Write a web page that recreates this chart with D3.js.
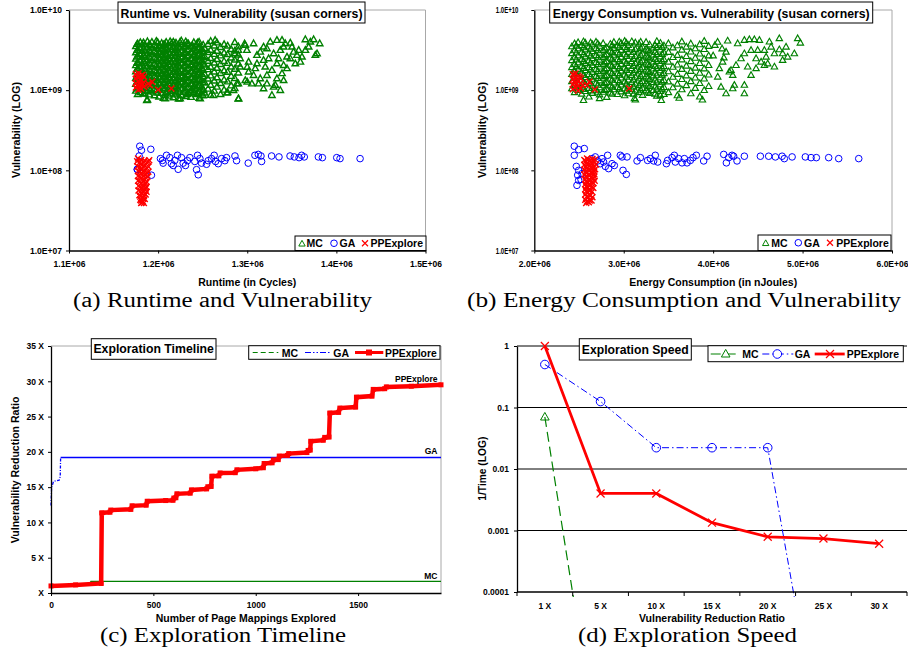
<!DOCTYPE html>
<html>
<head>
<meta charset="utf-8">
<script src="https://cdn.jsdelivr.net/npm/d3@7"></script>
<style>
  body { margin: 0; background: #fff; }
  svg { display: block; }
  text { font-family: "Liberation Sans", Arial, Helvetica, sans-serif; font-weight: bold; fill: #000; }
  text.cap { font-family: "Liberation Serif", "Times New Roman", serif; font-weight: normal; }
</style>
</head>
<body>
<svg id="fig" width="908" height="652"></svg>
<script>
// ---- data: scatter (a), runtime in 1e6 cycles, vulnerability in 1e8 ----
// column form: [runtime, vuln, vuln, ...]
var mcRuntimeCols = [
  [1.175, 9.8, 11.9, 14.2, 17.1, 20.4, 24.6, 29.5, 35.2],
  [1.1765, 10.4, 12.6, 15.1, 18.2, 21.8, 26.2, 31.4, 37.5],
  [1.177, 8.9, 10.7, 13.0, 15.6, 18.7, 22.3, 26.8, 32.0, 38.1],
  [1.180, 9.4, 11.3, 13.6, 16.4, 19.6, 23.5, 28.1, 33.6, 39.5],
  [1.182, 10.2, 12.4, 14.9, 17.9, 21.4, 25.7, 30.8, 36.9],
  [1.1835, 9.0, 11.0, 13.2, 15.9, 19.0, 22.9, 27.4, 32.9, 39.2],
  [1.185, 9.1, 10.9, 12.9, 15.3, 18.2, 21.9, 26.1, 31.2, 37.4],
  [1.188, 7.6, 9.7, 11.6, 13.9, 16.7, 20.0, 24.0, 28.8, 34.5, 40.6],
  [1.190, 8.8, 10.5, 12.6, 15.1, 18.1, 21.7, 26.0, 31.1, 37.2],
  [1.1915, 10.0, 12.0, 14.4, 17.3, 20.8, 24.9, 29.9, 35.8],
  [1.193, 9.6, 11.5, 13.8, 16.5, 19.8, 23.7, 28.4, 34.0, 39.8],
  [1.196, 8.6, 10.3, 12.3, 14.8, 17.7, 21.2, 25.4, 30.4, 36.4],
  [1.198, 9.9, 11.8, 14.2, 17.0, 20.3, 24.3, 29.1, 34.9, 41.0],
  [1.1995, 9.3, 11.2, 13.4, 16.1, 19.3, 23.2, 27.8, 33.3, 39.5],
  [1.201, 8.3, 10.0, 12.0, 14.4, 17.2, 20.6, 24.7, 29.6, 35.4],
  [1.204, 9.2, 11.1, 13.3, 15.9, 19.0, 22.8, 27.3, 32.7, 38.6],
  [1.206, 8.0, 10.6, 12.7, 15.2, 18.3, 21.9, 26.2, 31.4, 37.0],
  [1.2075, 8.7, 10.5, 12.6, 15.1, 18.1, 21.7, 26.0, 31.2, 37.3],
  [1.209, 9.5, 11.4, 13.7, 16.4, 19.7, 23.6, 28.3, 33.9, 39.9],
  [1.212, 8.5, 10.2, 12.2, 14.6, 17.5, 21.0, 25.2, 30.1, 36.0],
  [1.2135, 9.7, 11.7, 14.0, 16.8, 20.1, 24.1, 28.9, 34.7, 40.6],
  [1.215, 9.0, 10.8, 12.9, 15.5, 18.6, 22.3, 26.7, 32.0, 38.3],
  [1.217, 8.1, 9.7, 11.7, 14.0, 16.8, 20.1, 24.1, 28.9, 34.6, 40.2],
  [1.2185, 8.8, 10.6, 12.7, 15.3, 18.3, 22.0, 26.4, 31.6, 37.9],
  [1.220, 9.3, 11.2, 13.4, 16.1, 19.3, 23.1, 27.7, 33.1, 39.0],
  [1.223, 7.8, 10.1, 12.1, 14.5, 17.4, 20.8, 24.9, 29.8, 35.7],
  [1.2245, 9.5, 11.4, 13.7, 16.4, 19.7, 23.6, 28.3, 33.9, 39.7],
  [1.226, 8.7, 10.4, 12.5, 15.0, 18.0, 21.6, 25.9, 31.0, 37.1, 41.5],
  [1.229, 9.8, 11.8, 14.1, 16.9, 20.2, 24.2, 29.0, 34.7],
  [1.231, 8.4, 10.1, 12.1, 14.5, 17.3, 20.7, 24.8, 29.7, 35.6, 40.5],
  [1.2325, 8.9, 10.7, 12.8, 15.4, 18.5, 22.2, 26.6, 31.9, 38.2],
  [1.234, 9.1, 10.9, 13.1, 15.7, 18.8, 22.5, 27.0, 32.3, 38.0],
  [1.237, 8.2, 9.9, 11.9, 14.3, 17.1, 20.5, 24.6, 29.5, 35.3],
  [1.2385, 10.1, 12.1, 14.5, 17.4, 20.9, 25.0, 30.0, 36.0],
  [1.240, 9.4, 11.3, 13.5, 16.2, 19.4, 23.3, 27.9, 33.4, 39.6],
  [1.243, 8.9, 10.7, 12.8, 15.4, 18.4, 22.1, 26.5, 31.7, 37.7],
  [1.2445, 9.2, 11.0, 13.2, 15.8, 19.0, 22.8, 27.3, 32.8, 39.2],
  [1.246, 8.0, 9.6, 11.5, 13.8, 16.6, 19.9, 23.8, 28.5, 34.2, 40.0],
  [1.249, 9.0, 11.0, 13.2, 15.8, 18.9, 22.7, 27.2, 32.6],
  [1.2505, 8.6, 10.3, 12.4, 14.9, 17.8, 21.4, 25.7, 30.8, 36.9],
  [1.252, 9.3, 12.6, 16.0, 20.8, 26.4, 33.5],
  [1.256, 10.4, 13.9, 18.2, 23.1, 29.8, 37.6],
  [1.259, 8.7, 11.6, 15.2, 19.5, 25.0, 31.8, 40.9],
  [1.263, 9.8, 13.1, 17.0, 22.0, 28.2, 35.9],
  [1.266, 11.0, 14.4, 18.9, 24.3, 30.9, 39.2],
  [1.270, 8.9, 12.2, 16.3, 21.1, 27.0, 34.4],
  [1.274, 10.1, 13.5, 17.6, 23.0, 29.3, 37.4],
  [1.278, 9.4, 12.8, 16.9, 21.8, 28.0, 35.8],
  [1.282, 11.4, 15.0, 19.6, 25.4, 32.4],
  [1.286, 10.6, 14.1, 18.4, 24.0, 31.0, 39.6],
  [1.290, 7.8, 12.1, 16.5, 21.4, 27.6, 35.0]
];
var mcRuntimePts = [
  [1.3652, 43], [1.3745, 43], [1.3813, 38.3], [1.3783, 28.7], [1.3764, 27.4], [1.3652, 31.6],
  [1.3596, 22.6], [1.3558, 27.4], [1.3502, 34.8], [1.3483, 24.9], [1.3539, 21.5], [1.3258, 40.2],
  [1.3333, 42.2], [1.339, 42.2], [1.3427, 38.3], [1.3483, 39], [1.3221, 33.2], [1.3296, 28.7],
  [1.3371, 31.6], [1.3446, 26.1], [1.3183, 23.7], [1.3333, 21.5], [1.3408, 20.5], [1.3277, 17.8],
  [1.339, 16.2], [1.3333, 14], [1.3446, 18.7], [1.3221, 12.1], [1.3183, 10.5], [1.3296, 11],
  [1.3277, 8.66], [1.3315, 11.6], [1.3146, 14], [1.3221, 15.4], [1.2865, 28.7], [1.2921, 24.9],
  [1.2996, 31.6], [1.3071, 38.3], [1.3109, 27.4], [1.2921, 19.6], [1.3015, 17], [1.3109, 21.5],
  [1.2978, 13.3], [1.2884, 12.1], [1.3052, 12.1], [1.2846, 10], [1.2902, 7.87], [1.3071, 15.4],
  [1.2978, 36.5], [1.3183, 34.8], [1.3146, 30.1], [1.309, 18.7], [1.3015, 22.6], [1.324, 24.9],
  [1.3408, 13.3], [1.3577, 31.6], [1.3614, 26.1], [1.352, 30.1], [1.3689, 34.8], [1.3708, 40.2],
  [1.3352, 24.9], [1.3202, 19.6], [1.3127, 12.1], [1.3371, 10], [1.3408, 34.8], [1.2472, 7.87],
  [1.2621, 8.66], [1.251, 10], [1.2771, 9.3], [1.1873, 7.5], [1.2079, 7.87], [1.2247, 7.87],
  [1.2362, 9.5], [1.264, 42], [1.297, 38], [1.29, 31.6], [1.3, 12.7], [1.3, 19.5]
];
var gaRuntime = [
  [1.1794, 2.0], [1.1813, 1.78], [1.1918, 1.83], [1.1787, 1.51], [1.1768, 1.02], [1.1765, 1.03],
  [1.1925, 0.87], [1.2026, 1.40], [1.2056, 1.23], [1.2094, 1.54], [1.2049, 1.33], [1.2131, 1.44],
  [1.2149, 1.21], [1.2187, 1.33], [1.2217, 1.54], [1.2169, 1.15], [1.2225, 1.03], [1.2262, 1.44],
  [1.2281, 1.23], [1.2307, 1.15], [1.2356, 1.44], [1.2329, 1.32], [1.2412, 1.29], [1.2442, 1.54],
  [1.2469, 1.40], [1.2487, 1.23], [1.2431, 1.02], [1.245, 0.88], [1.2562, 1.32], [1.2543, 1.19],
  [1.2599, 1.40], [1.2629, 1.54], [1.2644, 1.29], [1.2674, 1.21], [1.2712, 1.40], [1.2749, 1.32],
  [1.2768, 1.44], [1.2862, 1.51], [1.288, 1.32], [1.3011, 1.23], [1.3086, 1.54], [1.3124, 1.58],
  [1.3154, 1.51], [1.3161, 1.29], [1.3273, 1.51], [1.3356, 1.47], [1.348, 1.51], [1.3528, 1.47],
  [1.3581, 1.44], [1.361, 1.54], [1.364, 1.47], [1.3798, 1.47], [1.3843, 1.44], [1.4004, 1.44],
  [1.4041, 1.40], [1.4266, 1.40]
];
var ppeRuntime = [
  [1.175, 15.8], [1.175, 13.9], [1.175, 12.2], [1.175, 10.8], [1.178, 16.3], [1.178, 14.5],
  [1.178, 12.8], [1.178, 11.3], [1.178, 10.1], [1.181, 15.2], [1.181, 13.3], [1.181, 11.7],
  [1.181, 10.4], [1.184, 14.6], [1.184, 12.6], [1.184, 11.0], [1.1765, 14.8], [1.1765, 11.5],
  [1.1795, 13.7], [1.1795, 10.7], [1.1825, 12.0], [1.1825, 15.6],
  [1.189, 12.0], [1.1907, 11.5], [1.1933, 12.7], [1.200, 10.1], [1.2149, 10.5],
  [1.1765, 1.30], [1.1770, 1.12], [1.1775, 0.98], [1.1775, 0.85], [1.1775, 0.74], [1.178, 0.64],
  [1.178, 0.56], [1.179, 0.49], [1.180, 0.43], [1.181, 0.39], [1.181, 1.35], [1.181, 1.20],
  [1.181, 1.05], [1.181, 0.92], [1.181, 0.80], [1.181, 0.69], [1.182, 0.60], [1.182, 0.52],
  [1.183, 0.45], [1.182, 0.40], [1.185, 1.32], [1.185, 1.16], [1.185, 1.00], [1.185, 0.88],
  [1.185, 0.77], [1.185, 0.67], [1.185, 0.58], [1.186, 0.50], [1.185, 0.44], [1.184, 0.39],
  [1.189, 1.28], [1.189, 1.12], [1.189, 0.96], [1.188, 0.84], [1.187, 0.72], [1.187, 0.62],
  [1.187, 0.54], [1.190, 1.34], [1.1775, 1.40],
  [1.1795, 1.26], [1.1795, 1.09], [1.1795, 0.95], [1.1795, 0.83], [1.1795, 0.72], [1.1795, 0.62],
  [1.180, 0.54], [1.180, 0.47], [1.181, 0.42], [1.1835, 1.28], [1.1835, 1.11], [1.1835, 0.97],
  [1.1835, 0.85], [1.1835, 0.74], [1.1835, 0.64], [1.184, 0.55], [1.184, 0.48], [1.183, 0.41],
  [1.1875, 1.24], [1.1875, 1.06], [1.1875, 0.92], [1.1865, 0.80], [1.186, 0.69], [1.186, 0.60]
];

// ---- data: scatter (b), energy in 1e6 nJ, vulnerability in 1e8 ----
var mcEnergyCols = [
  [2.42, 10.5, 12.9, 15.8, 19.3, 23.6, 28.8, 35.1],
  [2.45, 9.4, 11.5, 14.1, 17.2, 21.0, 25.6, 31.3, 38.2],
  [2.47, 10.8, 13.2, 16.1, 19.7, 24.0, 29.3, 35.8],
  [2.49, 10.0, 12.2, 14.9, 18.2, 22.2, 27.1, 33.1, 39.5],
  [2.53, 9.0, 11.0, 13.4, 16.4, 20.0, 24.4, 29.8, 36.3],
  [2.55, 10.3, 12.6, 15.4, 18.8, 22.9, 27.9, 34.1, 40.5],
  [2.57, 9.7, 11.9, 14.5, 17.7, 21.6, 26.3, 32.1, 39.0],
  [2.61, 8.3, 10.6, 12.9, 15.8, 19.3, 23.5, 28.7, 35.0],
  [2.63, 9.9, 12.1, 14.7, 18.0, 21.9, 26.8, 32.7, 39.1],
  [2.65, 9.2, 11.3, 13.8, 16.8, 20.5, 25.0, 30.5, 37.2],
  [2.69, 10.1, 12.3, 15.0, 18.3, 22.3, 27.2, 33.2, 40.0],
  [2.71, 9.5, 11.6, 14.1, 17.2, 21.0, 25.6, 31.3, 38.0],
  [2.73, 8.8, 10.8, 13.2, 16.1, 19.6, 23.9, 29.2, 35.6],
  [2.77, 9.5, 11.6, 14.2, 17.3, 21.1, 25.8, 31.5, 38.4],
  [2.79, 10.0, 12.2, 14.9, 18.1, 22.1, 27.0, 32.9],
  [2.81, 8.2, 10.3, 12.6, 15.4, 18.8, 22.9, 28.0, 34.1],
  [2.85, 9.3, 11.4, 13.9, 17.0, 20.7, 25.3, 30.9, 37.7],
  [2.87, 9.0, 11.0, 13.4, 16.3, 19.9, 24.3, 29.7, 36.2],
  [2.89, 10.2, 12.4, 15.1, 18.4, 22.5, 27.5, 33.5, 39.8],
  [2.93, 8.9, 10.9, 13.3, 16.2, 19.8, 24.2, 29.5, 36.0],
  [2.95, 10.4, 12.7, 15.5, 18.9, 23.1, 28.2, 34.4, 40.2],
  [2.97, 9.6, 11.7, 14.3, 17.4, 21.2, 25.9, 31.6, 38.6],
  [3.01, 8.6, 10.5, 12.8, 15.6, 19.0, 23.2, 28.3, 34.5, 41.0],
  [3.03, 9.8, 12.0, 14.6, 17.8, 21.7, 26.5, 32.3, 38.9],
  [3.05, 9.1, 11.1, 13.5, 16.5, 20.1, 24.5, 29.9, 36.5],
  [3.09, 10.3, 12.6, 15.4, 18.8, 22.9, 27.9, 34.0, 40.5],
  [3.11, 9.0, 11.0, 13.4, 16.4, 20.0, 24.4, 29.8],
  [3.13, 7.6, 9.8, 12.0, 14.6, 17.8, 21.7, 26.5, 32.3, 39.2],
  [3.17, 9.4, 11.5, 14.0, 17.1, 20.9, 25.5, 31.1, 37.9],
  [3.19, 10.1, 12.3, 15.0, 18.3, 22.4, 27.3, 33.3, 40.1],
  [3.21, 8.7, 10.6, 12.9, 15.7, 19.2, 23.4, 28.5, 34.8],
  [3.25, 9.9, 12.1, 14.8, 18.0, 22.0, 26.8, 32.7, 39.7],
  [3.27, 9.5, 11.6, 14.2, 17.3, 21.1, 25.7, 31.4],
  [3.29, 9.2, 11.2, 13.7, 16.7, 20.4, 24.9, 30.4, 37.0],
  [3.33, 10.0, 12.5, 15.2, 18.5, 22.6, 27.6, 33.7],
  [3.35, 9.0, 11.0, 13.4, 16.4, 20.0, 24.4, 29.8, 36.3],
  [3.37, 8.5, 10.4, 12.7, 15.5, 18.9, 23.1, 28.2, 34.4, 40.8],
  [3.41, 9.7, 11.8, 14.4, 17.6, 21.5, 26.2, 32.0, 38.8],
  [3.43, 10.4, 12.7, 15.5, 18.9, 23.1, 28.2, 34.4],
  [3.45, 8.9, 10.9, 13.3, 16.2, 19.8, 24.2, 29.5, 36.0],
  [3.50, 9.4, 12.8, 17.1, 22.6, 29.9, 38.3],
  [3.55, 10.8, 14.6, 19.5, 25.8, 34.0],
  [3.60, 8.6, 12.0, 15.9, 20.8, 27.4, 36.1],
  [3.65, 10.2, 13.7, 18.3, 24.1, 31.9, 40.3],
  [3.70, 11.5, 15.2, 20.1, 26.5, 34.8],
  [3.75, 9.1, 12.9, 17.3, 22.9, 30.2, 38.0],
  [3.80, 10.6, 14.3, 19.0, 25.2, 33.1],
  [3.85, 8.3, 12.2, 16.4, 21.7, 28.5, 37.2],
  [3.90, 10.0, 13.9, 18.6, 24.6, 32.4, 41.0],
  [3.95, 11.2, 15.6, 20.5, 27.0, 35.5]
];
var mcEnergyPts = [
  [4.162, 41.4], [4.274, 38.3], [4.349, 42.2], [4.405, 43], [4.461, 43], [4.517, 42.2],
  [4.629, 40.2], [4.740, 44.3], [4.945, 44.3], [4.975, 39.0], [4.908, 28.7], [4.777, 23.7],
  [4.740, 32.2], [4.685, 28.7], [4.648, 34.8], [4.592, 26.1], [4.536, 22.6], [4.480, 24.9],
  [4.424, 31.6], [4.349, 28.7], [4.312, 24.9], [4.256, 20.5], [4.200, 17.8], [4.219, 15.4],
  [4.237, 11.6], [4.219, 10.5], [4.349, 9.1], [4.349, 11.6], [4.424, 15.4], [4.480, 18.7],
  [4.573, 20.5], [4.386, 19.6], [4.106, 22.6], [4.144, 30.1], [4.069, 18.7], [4.051, 14.7],
  [4.088, 11.0], [4.144, 9.1], [4.181, 17.0], [4.610, 21.5], [4.685, 19.6], [4.833, 26.1],
  [4.815, 34.8], [4.777, 28.7], [4.573, 31.6], [4.498, 31.6], [4.02, 36.5], [4.05, 40.0],
  [4.10, 33.0], [4.00, 27.0], [4.12, 25.5], [2.55, 7.5], [2.73, 7.9], [3.12, 7.9],
  [3.42, 7.5], [3.41, 8.6], [3.62, 8.0], [3.88, 7.6]
];
var gaEnergy = [
  [2.447, 2.0], [2.496, 1.81], [2.559, 1.87], [2.447, 1.54], [2.470, 1.12], [2.496, 1.0],
  [2.485, 0.87], [2.496, 0.75], [2.477, 0.65], [2.522, 0.77], [2.533, 0.91], [2.645, 1.40],
  [2.682, 1.47], [2.708, 1.31], [2.757, 1.40], [2.738, 1.21], [2.775, 1.27], [2.820, 1.54],
  [2.794, 1.12], [2.831, 1.05], [2.869, 1.21], [2.895, 1.15], [2.962, 1.54], [2.981, 1.47],
  [3.037, 1.47], [2.992, 1.0], [3.029, 0.89], [3.149, 1.31], [3.186, 1.44], [3.267, 1.33],
  [3.298, 1.40], [3.353, 1.54], [3.335, 1.31], [3.380, 1.27], [3.477, 1.21], [3.491, 1.33],
  [3.540, 1.44], [3.566, 1.54], [3.577, 1.27], [3.614, 1.40], [3.652, 1.24], [3.678, 1.40],
  [3.708, 1.24], [3.745, 1.33], [3.775, 1.44], [3.812, 1.54], [3.894, 1.31], [3.932, 1.50],
  [4.118, 1.58], [4.148, 1.24], [4.174, 1.44], [4.211, 1.54], [4.229, 1.50], [4.267, 1.31],
  [4.349, 1.50], [4.528, 1.50], [4.621, 1.50], [4.696, 1.47], [4.771, 1.50], [4.796, 1.40],
  [4.883, 1.47], [5.031, 1.47], [5.095, 1.44], [5.154, 1.44], [5.292, 1.44], [5.404, 1.40],
  [5.628, 1.40]
];
var ppeEnergy = [
  [2.43, 15.8], [2.43, 13.6], [2.43, 11.8], [2.43, 10.3], [2.46, 16.2], [2.46, 14.2],
  [2.46, 12.4], [2.46, 10.8], [2.49, 15.0], [2.49, 13.0], [2.49, 11.3], [2.49, 9.8],
  [2.52, 14.0], [2.52, 12.2], [2.52, 10.6], [2.54, 11.6], [2.447, 15.4], [2.59, 11.5],
  [2.615, 12.7], [2.675, 10.2], [3.06, 10.5], [2.445, 12.9], [2.475, 11.9], [2.505, 14.5],
  [2.56, 1.35], [2.56, 1.17], [2.56, 1.02], [2.56, 0.89], [2.57, 0.77], [2.57, 0.67],
  [2.57, 0.58], [2.57, 0.50], [2.57, 0.43], [2.58, 0.39], [2.59, 1.40], [2.59, 1.22],
  [2.59, 1.06], [2.59, 0.93], [2.59, 0.81], [2.60, 0.70], [2.60, 0.61], [2.60, 0.53],
  [2.60, 0.46], [2.61, 0.40], [2.62, 1.33], [2.62, 1.15], [2.62, 1.0], [2.62, 0.87],
  [2.62, 0.76], [2.63, 0.66], [2.63, 0.57], [2.63, 0.49], [2.64, 0.42], [2.65, 1.38],
  [2.65, 1.20], [2.65, 1.04], [2.65, 0.91], [2.66, 0.79], [2.66, 0.69], [2.66, 0.60],
  [2.68, 1.36], [2.69, 1.18], [2.68, 1.03], [2.67, 0.90],
  [2.575, 1.30], [2.575, 1.12], [2.575, 0.97], [2.575, 0.84], [2.58, 0.73], [2.58, 0.63],
  [2.58, 0.55], [2.585, 0.47], [2.59, 0.41], [2.605, 1.36], [2.605, 1.18], [2.605, 1.02],
  [2.605, 0.88], [2.61, 0.76], [2.61, 0.66], [2.61, 0.57], [2.615, 0.49], [2.62, 0.42],
  [2.635, 1.27], [2.635, 1.10], [2.64, 0.95], [2.64, 0.83], [2.645, 0.72], [2.645, 0.62],
  [2.645, 0.54], [2.65, 0.46], [2.665, 1.30], [2.665, 1.12], [2.67, 0.97], [2.67, 0.84],
  [2.675, 0.74]
];

var vulnTicks = [0.1, 1, 10, 100];
var vulnTickLabels = ["1.0E+07", "1.0E+08", "1.0E+09", "1.0E+10"];
var runtimeTicks = [1.1, 1.2, 1.3, 1.4, 1.5];
var runtimeTickLabels = ["1.1E+06", "1.2E+06", "1.3E+06", "1.4E+06", "1.5E+06"];
var energyTicks = [2, 3, 4, 5, 6];
var energyTickLabels = ["2.0E+06", "3.0E+06", "4.0E+06", "5.0E+06", "6.0E+06"];

// ---- data: exploration timeline (c), [mappings explored, reduction ratio] ----
var mcTimeline = [[0, 1.0], [100, 1.2], [190, 1.3], [195, 1.66], [1905, 1.66]];
var gaTimeline = [[0, 12.4], [3, 15.0], [8, 15.4], [12, 15.8], [40, 16.0], [45, 16.5], [47, 19.2], [1905, 19.2]];
var ppeTimeline = [
  [0, 1.0], [120, 1.15], [245, 1.35], [248, 11.35], [288, 11.45], [292, 11.75], [390, 11.85],
  [396, 12.35], [465, 12.45], [470, 13.0], [560, 13.1], [596, 13.15], [600, 13.45], [610, 13.5],
  [615, 14.05], [680, 14.15], [686, 14.6], [760, 14.75], [766, 15.05], [782, 15.1], [786, 16.55],
  [820, 16.6], [826, 17.0], [900, 17.05], [908, 17.45], [1000, 17.6], [1037, 17.75], [1041, 18.35],
  [1080, 18.45], [1086, 18.85], [1110, 18.9], [1115, 19.4], [1155, 19.5], [1161, 19.75],
  [1250, 19.9], [1256, 20.2], [1266, 20.25], [1269, 21.5], [1330, 21.65], [1337, 22.05],
  [1358, 22.1], [1362, 25.5], [1405, 25.6], [1411, 26.2], [1488, 26.35], [1492, 27.75],
  [1568, 27.9], [1574, 28.85], [1630, 28.95], [1638, 29.2], [1760, 29.3], [1905, 29.5]
];
var ratioTicks = [0, 5, 10, 15, 20, 25, 30, 35];
var ratioTickLabels = ["X", "5 X", "10 X", "15 X", "20 X", "25 X", "30 X", "35 X"];
var mappingTicks = [0, 500, 1000, 1500];
var mappingTickLabels = ["0", "500", "1000", "1500"];

// ---- data: exploration speed (d), 1/time ----
var speedCats = ["1 X", "5 X", "10 X", "15 X", "20 X", "25 X", "30 X"];
var mcSpeed = [0.07, 1.3e-7, null, null, null, null, null];
var gaSpeed = [0.5, 0.125, 0.0222, 0.0222, 0.0222, 1.8e-7, null];
var ppeSpeed = [1, 0.004, 0.004, 0.00134, 0.00079, 0.00074, 0.00061];
var speedTicks = [0.0001, 0.001, 0.01, 0.1, 1];
var speedTickLabels = ["0.0001", "0.001", "0.01", "0.1", "1"];

var GREEN = "#008000", BLUE = "#0000ff", RED = "#ff0000", FRAME = "#a8a8a8";
var TRI = "M0,-3.4L3.2,2.3L-3.2,2.3Z";
var CROSS = "M-3,-3L3,3M-3,3L3,-3";

var fig = d3.select("#fig");
fig.append("rect").attr("width", 908).attr("height", 652).attr("fill", "#fff");

function flatten(cols, pts) {
  var out = [];
  cols.forEach(function(c) {
    c.slice(1).forEach(function(v) { out.push([c[0], v]); });
  });
  return out.concat(pts);
}

function styleAxis(sel, fs) {
  sel.attr("font-family", null).attr("font-size", null);
  sel.select(".domain").attr("stroke", "#000").attr("stroke-width", 1.3);
  sel.selectAll(".tick line").attr("stroke", "#000");
  sel.selectAll(".tick text").attr("font-size", fs);
}

function label(x, y, s, fs, len, anchor, rot) {
  var t = fig.append("text")
    .attr("transform", "translate(" + x + "," + y + ")" + (rot ? " rotate(-90)" : ""))
    .attr("text-anchor", anchor || "middle")
    .attr("font-size", fs)
    .text(s);
  if (len) t.attr("textLength", len).attr("lengthAdjust", "spacingAndGlyphs");
  return t;
}

function titleBox(x0, x1, y0, y1, s, base, len) {
  fig.append("rect").attr("x", x0).attr("y", y0).attr("width", x1 - x0).attr("height", y1 - y0)
    .attr("fill", "#fff").attr("stroke", "#000");
  label((x0 + x1) / 2, base, s, 12.5, len);
}

function caption(x0, x1, base, s) {
  label((x0 + x1) / 2, base, s, 20, x1 - x0).attr("class", "cap");
}

// ---------- scatter panels ----------
function scatterPanel(o) {
  var x = d3.scaleLinear().domain(o.xDomain).range([o.left, o.right]);
  var y = d3.scaleLog().domain([0.1, 100]).range([250.5, 10]);
  var g = fig.append("g");
  g.append("path").attr("d", "M" + o.left + ",10H" + o.right + "V250.5")
    .attr("fill", "none").attr("stroke", FRAME);

  g.append("g").attr("fill", "none").attr("stroke", GREEN).attr("stroke-width", o.mcStroke)
    .selectAll("path").data(o.mc).join("path")
    .attr("d", TRI)
    .attr("transform", function(d) { return "translate(" + x(d[0]) + "," + y(d[1]) + ")"; });
  g.append("g").attr("fill", "none").attr("stroke", BLUE).attr("stroke-width", 1)
    .selectAll("circle").data(o.ga).join("circle")
    .attr("r", 3.3)
    .attr("cx", function(d) { return x(d[0]); })
    .attr("cy", function(d) { return y(d[1]); });
  g.append("g").attr("fill", "none").attr("stroke", RED).attr("stroke-width", 1.4)
    .selectAll("path").data(o.ppe).join("path")
    .attr("d", CROSS)
    .attr("transform", function(d) { return "translate(" + x(d[0]) + "," + y(d[1]) + ")"; });

  var ya = g.append("g").attr("transform", "translate(" + o.left + ",0)")
    .call(d3.axisLeft(y).tickValues(vulnTicks)
      .tickFormat(function(d, i) { return vulnTickLabels[i]; })
      .tickSize(3).tickSizeOuter(0).tickPadding(o.yPad));
  styleAxis(ya, 8.5);
  ya.selectAll(".tick text").attr("textLength", o.yLabelLen).attr("lengthAdjust", "spacingAndGlyphs");

  var xa = g.append("g").attr("transform", "translate(0,250.5)")
    .call(d3.axisBottom(x).tickValues(o.xTicks)
      .tickFormat(function(d, i) { return o.xTickLabels[i]; })
      .tickSize(3).tickSizeOuter(0).tickPadding(7));
  styleAxis(xa, 8.5);

  titleBox(o.tb[0], o.tb[1], 2, 23, o.title, 17.5, o.tb[2]);
  label(o.yTitleX, 130, "Vulnerability (LOG)", 10.5, 96, "middle", true);
  label((o.left + o.right) / 2, 286.3, o.xTitle, 10.5, o.xTitleLen);

  // legend
  var L = o.leg;
  fig.append("rect").attr("x", L[0]).attr("y", L[1]).attr("width", L[2] - L[0]).attr("height", 250.5 - L[1])
    .attr("fill", "#fff").attr("stroke", "#000");
  var cy = (L[1] + 250.5) / 2;
  fig.append("path").attr("d", TRI).attr("transform", "translate(" + L[3] + "," + (cy + 0.5) + ")")
    .attr("fill", "none").attr("stroke", GREEN).attr("stroke-width", 1);
  label(L[4], cy + 4, "MC", 10.5, null, "start");
  fig.append("circle").attr("cx", L[5]).attr("cy", cy).attr("r", 3.3)
    .attr("fill", "none").attr("stroke", BLUE);
  label(L[6], cy + 4, "GA", 10.5, null, "start");
  fig.append("path").attr("d", CROSS).attr("transform", "translate(" + L[7] + "," + cy + ")")
    .attr("fill", "none").attr("stroke", RED).attr("stroke-width", 1.2);
  label(L[8], cy + 4, "PPExplore", 10.5, 52.5, "start");
}

scatterPanel({
  left: 69, right: 425.5, xDomain: [1.1, 1.5],
  xTicks: runtimeTicks, xTickLabels: runtimeTickLabels,
  mc: flatten(mcRuntimeCols, mcRuntimePts), ga: gaRuntime, ppe: ppeRuntime, mcStroke: 1.4,
  yPad: 4, yLabelLen: 32,
  title: "Runtime vs. Vulnerability (susan corners)", tb: [118, 365, 242],
  yTitleX: 19.5, xTitle: "Runtime (in Cycles)", xTitleLen: 98,
  leg: [295, 236, 426, 302, 306.5, 334, 339.5, 365, 370.5]
});

scatterPanel({
  left: 534.3, right: 892, xDomain: [2, 6],
  xTicks: energyTicks, xTickLabels: energyTickLabels,
  mc: flatten(mcEnergyCols, mcEnergyPts), ga: gaEnergy, ppe: ppeEnergy, mcStroke: 1.15,
  yPad: 13, yLabelLen: 22.5,
  title: "Energy Consumption vs. Vulnerability (susan corners)", tb: [549.7, 872.7, 317],
  yTitleX: 486, xTitle: "Energy Consumption (in nJoules)", xTitleLen: 168,
  leg: [758, 235, 891, 765.7, 771.3, 798.3, 804, 830, 836.3]
});

caption(73, 372, 306.5, "(a) Runtime and Vulnerability");
caption(467, 901, 306.5, "(b) Energy Consumption and Vulnerability");

// ---------- (c) exploration timeline ----------
(function() {
  var x = d3.scaleLinear().domain([0, 1905]).range([51, 441]);
  var y = d3.scaleLinear().domain([0, 35]).range([593, 346]);
  var line = d3.line().x(function(d) { return x(d[0]); }).y(function(d) { return y(d[1]); });
  var g = fig.append("g");
  g.append("path").attr("d", "M51,346H441V593").attr("fill", "none").attr("stroke", FRAME);

  g.append("path").attr("d", line(mcTimeline)).attr("fill", "none").attr("stroke", GREEN).attr("stroke-width", 1.2);
  g.append("path").attr("d", line(gaTimeline.slice(0, 7))).attr("fill", "none").attr("stroke", BLUE)
    .attr("stroke-width", 1.3).attr("stroke-dasharray", "3,1.5,1,1.5");
  g.append("path").attr("d", line(gaTimeline.slice(6))).attr("fill", "none").attr("stroke", BLUE).attr("stroke-width", 1.3);
  g.append("path").attr("d", line(ppeTimeline)).attr("fill", "none").attr("stroke", RED).attr("stroke-width", 4.5);
  g.selectAll("rect.sq").data(ppeTimeline).join("rect").attr("class", "sq")
    .attr("x", function(d) { return x(d[0]) - 2.5; })
    .attr("y", function(d) { return y(d[1]) - 2.5; })
    .attr("width", 5).attr("height", 5).attr("fill", RED);

  var ya = g.append("g").attr("transform", "translate(51,0)")
    .call(d3.axisLeft(y).tickValues(ratioTicks)
      .tickFormat(function(d, i) { return ratioTickLabels[i]; })
      .tickSize(3).tickSizeOuter(0).tickPadding(4));
  styleAxis(ya, 8.5);
  var xa = g.append("g").attr("transform", "translate(0,593)")
    .call(d3.axisBottom(x).tickValues(mappingTicks)
      .tickFormat(function(d, i) { return mappingTickLabels[i]; })
      .tickSize(3).tickSizeOuter(0).tickPadding(6));
  styleAxis(xa, 8.5);

  label(437.5, 381.7, "PPExplore", 8.5, null, "end");
  label(437.5, 454, "GA", 8.5, null, "end");
  label(437.5, 579.3, "MC", 8.5, null, "end");

  titleBox(91.3, 216, 338.7, 359.3, "Exploration Timeline", 352.7, 120.5);
  label(19, 470, "Vulnerability Reduction Ratio", 10.5, 146.7, "middle", true);
  label(245.8, 621.5, "Number of Page Mappings Explored", 10.5, 180);

  // legend
  fig.append("rect").attr("x", 248.7).attr("y", 345.7).attr("width", 191.3).attr("height", 13.6)
    .attr("fill", "#fff").attr("stroke", "#000");
  var ly = 352.5;
  fig.append("line").attr("x1", 252.7).attr("x2", 278.3).attr("y1", ly).attr("y2", ly)
    .attr("stroke", GREEN).attr("stroke-width", 1.2).attr("stroke-dasharray", "5,3");
  label(281.7, 356.7, "MC", 10.5, null, "start");
  fig.append("line").attr("x1", 305).attr("x2", 330).attr("y1", ly).attr("y2", ly)
    .attr("stroke", BLUE).attr("stroke-width", 1.2).attr("stroke-dasharray", "6,2,1.5,2,1.5,2");
  label(333.3, 356.7, "GA", 10.5, null, "start");
  fig.append("line").attr("x1", 355).attr("x2", 383.3).attr("y1", ly).attr("y2", ly)
    .attr("stroke", RED).attr("stroke-width", 3);
  fig.append("rect").attr("x", 366).attr("y", ly - 3).attr("width", 6).attr("height", 6).attr("fill", RED);
  label(385, 356.7, "PPExplore", 10.5, 51.7, "start");
})();

// ---------- (d) exploration speed ----------
(function() {
  var x = d3.scaleBand().domain(speedCats).range([517, 907]);
  var y = d3.scaleLog().domain([0.0001, 1]).range([592, 346]);
  var cx = function(i) { return x(speedCats[i]) + x.bandwidth() / 2; };
  var g = fig.append("g");

  fig.append("clipPath").attr("id", "clipD").append("rect")
    .attr("x", 517).attr("y", 330).attr("width", 391).attr("height", 267);

  g.selectAll("line.grid").data(speedTicks.slice(1)).join("line").attr("class", "grid")
    .attr("x1", 517).attr("x2", 907)
    .attr("y1", function(d) { return y(d); }).attr("y2", function(d) { return y(d); })
    .attr("stroke", "#000");

  var line = d3.line()
    .defined(function(d) { return d != null; })
    .x(function(d, i) { return cx(i); })
    .y(function(d) { return y(d); });
  var plot = g.append("g").attr("clip-path", "url(#clipD)");
  plot.append("path").attr("d", line(mcSpeed)).attr("fill", "none").attr("stroke", GREEN)
    .attr("stroke-width", 1.2).attr("stroke-dasharray", "10,5");
  plot.append("path").attr("d", line(gaSpeed)).attr("fill", "none").attr("stroke", BLUE)
    .attr("stroke-width", 1).attr("stroke-dasharray", "7,3,1.5,3");
  plot.append("path").attr("d", line(ppeSpeed)).attr("fill", "none").attr("stroke", RED)
    .attr("stroke-width", 2.8);

  var pts = function(arr) {
    return arr.map(function(v, i) { return [i, v]; })
      .filter(function(d) { return d[1] != null && d[1] >= 0.0001; });
  };
  plot.selectAll("path.mcm").data(pts(mcSpeed)).join("path").attr("class", "mcm")
    .attr("d", "M0,-4.6L4.3,3L-4.3,3Z")
    .attr("transform", function(d) { return "translate(" + cx(d[0]) + "," + y(d[1]) + ")"; })
    .attr("fill", "none").attr("stroke", GREEN);
  plot.selectAll("circle.gam").data(pts(gaSpeed)).join("circle").attr("class", "gam")
    .attr("cx", function(d) { return cx(d[0]); }).attr("cy", function(d) { return y(d[1]); })
    .attr("r", 4.3).attr("fill", "none").attr("stroke", BLUE);
  plot.selectAll("path.ppm").data(pts(ppeSpeed)).join("path").attr("class", "ppm")
    .attr("d", "M-4,-4L4,4M-4,4L4,-4")
    .attr("transform", function(d) { return "translate(" + cx(d[0]) + "," + y(d[1]) + ")"; })
    .attr("fill", "none").attr("stroke", RED).attr("stroke-width", 1.2);

  var ya = g.append("g").attr("transform", "translate(517,0)")
    .call(d3.axisLeft(y).tickValues(speedTicks)
      .tickFormat(function(d, i) { return speedTickLabels[i]; })
      .tickSize(3).tickSizeOuter(0).tickPadding(5));
  styleAxis(ya, 8.5);

  // category axis: ticks sit on band edges
  g.append("line").attr("x1", 517).attr("x2", 907).attr("y1", 592).attr("y2", 592)
    .attr("stroke", "#000").attr("stroke-width", 1.3);
  var edges = speedCats.map(function(c) { return x(c); }).concat([x.range()[1]]);
  g.selectAll("line.tk").data(edges).join("line").attr("class", "tk")
    .attr("x1", function(d) { return d; }).attr("x2", function(d) { return d; })
    .attr("y1", 592).attr("y2", 596).attr("stroke", "#000");
  g.selectAll("text.cat").data(speedCats).join("text").attr("class", "cat")
    .attr("x", function(d, i) { return cx(i); }).attr("y", 608.5)
    .attr("text-anchor", "middle").attr("font-size", 8.5)
    .text(function(d) { return d; });

  titleBox(579.3, 691.3, 338.7, 360, "Exploration Speed", 353.5, 107);
  label(486, 468.7, "1/Time (LOG)", 10.5, 64, "middle", true);
  label(712, 621.5, "Vulnerability Reduction Ratio", 10.5, 146);

  // legend
  fig.append("rect").attr("x", 708).attr("y", 345.7).attr("width", 195.3).attr("height", 16)
    .attr("fill", "#fff").attr("stroke", "#000");
  var ly = 354;
  fig.append("line").attr("x1", 710.7).attr("x2", 740.7).attr("y1", ly).attr("y2", ly)
    .attr("stroke", GREEN).attr("stroke-width", 1.2).attr("stroke-dasharray", "10,5");
  fig.append("path").attr("d", "M0,-4.6L4.3,3L-4.3,3Z").attr("transform", "translate(725.7," + ly + ")")
    .attr("fill", "#fff").attr("stroke", GREEN);
  label(742.3, 358, "MC", 10.5, null, "start");
  fig.append("line").attr("x1", 762.3).attr("x2", 793.3).attr("y1", ly).attr("y2", ly)
    .attr("stroke", BLUE).attr("stroke-width", 1).attr("stroke-dasharray", "7,3,1.5,3");
  fig.append("circle").attr("cx", 777.3).attr("cy", ly).attr("r", 4.3).attr("fill", "#fff").attr("stroke", BLUE);
  label(794.7, 358, "GA", 10.5, null, "start");
  fig.append("line").attr("x1", 814.7).attr("x2", 844.7).attr("y1", ly).attr("y2", ly)
    .attr("stroke", RED).attr("stroke-width", 2.8);
  fig.append("path").attr("d", "M-4,-4L4,4M-4,4L4,-4").attr("transform", "translate(830," + ly + ")")
    .attr("stroke", RED).attr("stroke-width", 1.2);
  label(846.7, 358, "PPExplore", 10.5, 52.3, "start");
})();

caption(100, 346, 642, "(c) Exploration Timeline");
caption(578, 797, 642, "(d) Exploration Speed");
</script>
</body>
</html>
